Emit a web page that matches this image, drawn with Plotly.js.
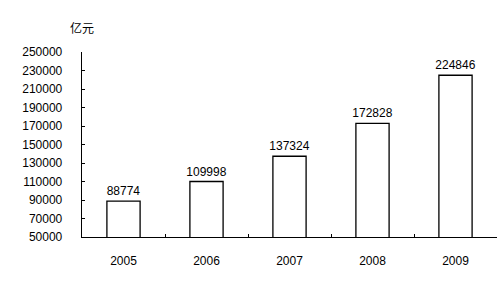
<!DOCTYPE html>
<html><head><meta charset="utf-8">
<script src="https://cdn.plot.ly/plotly-3.0.1.min.js"></script>
<style>body{margin:0;background:#fff}#c{width:501px;height:281px}</style>
</head><body><div id="c"></div>
<script>
const years = ['2005','2006','2007','2008','2009'];
const values = [88774, 109998, 137324, 172828, 224846];
const yTicks = [50000,70000,90000,110000,130000,150000,170000,190000,210000,230000,250000];
const unitLabel = '亿元';

const trace = {
  type:'bar', x: years, y: values,
  marker:{color:'#ffffff', line:{color:'#000000', width:1.3}},
  text: values.map(String), textposition:'outside', cliponaxis:false, constraintext:'none',
  textfont:{family:'Liberation Sans, Arial, sans-serif', size:12, color:'#000'},
  hoverinfo:'none'
};
const layout = {
  width:501, height:281,
  margin:{l:82, r:4, t:52, b:44},
  paper_bgcolor:'#fff', plot_bgcolor:'#fff',
  font:{family:'Liberation Sans, Arial, sans-serif', size:12, color:'#000'},
  bargap:0.6, showlegend:false,
  xaxis:{type:'category', showline:true, linecolor:'#000', linewidth:1.3,
    ticks:'inside', ticklen:3, tickcolor:'#000', tickson:'boundaries',
    showgrid:false, zeroline:false, ticklabelstandoff:12,
    tickfont:{size:12, color:'#000'}},
  yaxis:{range:[50000,250000], tickvals:yTicks, ticktext:yTicks.map(String),
    showline:true, linecolor:'#000', linewidth:1.3,
    ticks:'inside', ticklen:3, tickcolor:'#000',
    showgrid:false, zeroline:false, ticklabelstandoff:16,
    tickfont:{size:12, color:'#000'}},
  annotations:[{text:unitLabel, xref:'paper', yref:'paper', x:0, y:1.0, yshift:14,
    xanchor:'center', yanchor:'bottom', showarrow:false,
    font:{family:'Noto Sans CJK SC, sans-serif', size:12, color:'#000'}}]
};
Plotly.newPlot('c',[trace],layout,{staticPlot:true});
</script></body></html>
